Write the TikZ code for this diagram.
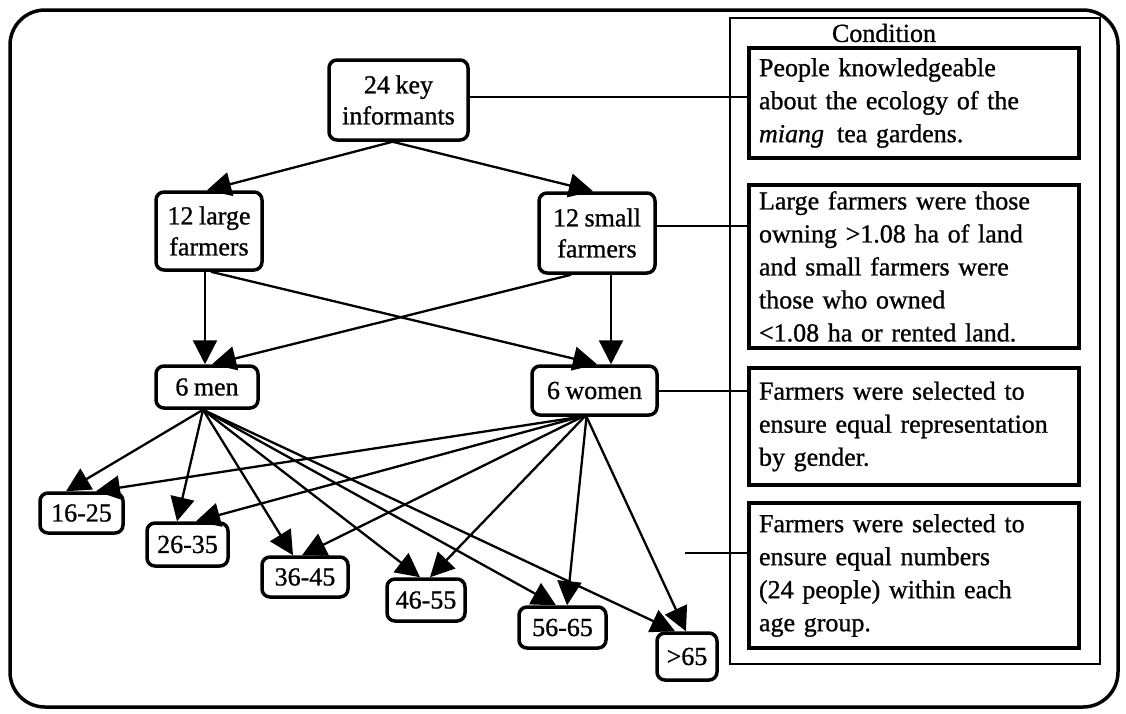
\documentclass[tikz,border=0pt]{standalone}
\usepackage{fontspec}
\setmainfont{Liberation Serif}[WordSpace=0.85,
  UprightFeatures={FakeBold=0.9}, ItalicFeatures={FakeBold=0.9}]
\usetikzlibrary{arrows.meta}
\begin{document}
\begin{tikzpicture}[x=1pt,y=-1pt,
  every node/.style={font=\fontsize{26}{31}\selectfont},
  nbox/.style={draw, line width=3.5pt, rounded corners=8pt, inner sep=0pt, align=center},
  cbox/.style={draw, line width=3.5pt, inner xsep=10pt, inner ysep=0pt,
    text width=310pt, align=left, minimum width=330pt, font=\fontsize{26}{33}\selectfont},
  arr/.style={line width=2.3pt, -{Triangle[length=24pt,width=24pt]}},
  link/.style={line width=2pt}]
\useasboundingbox (0,0) rectangle (1126,713);

% outer frame
\draw[line width=3.5pt, rounded corners=35pt] (10,10) rectangle (1118,707);

% condition column
\node[draw, line width=1.5pt, minimum width=370pt, minimum height=646pt, inner sep=0pt] (panel) at (915,341) {};
\node (cond) at (884,33) {Condition};
\node[cbox, minimum height=110pt] (c1) at (914,103)
  {People knowledgeable\\about the ecology of the\\\textit{miang}\ \,tea gardens.};
\node[cbox, minimum height=163pt] (c2) at (914,266.5)
  {Large farmers were those\\owning >1.08 ha of land\\and small farmers were\\those who owned\\<1.08 ha or rented land.};
\node[cbox, minimum height=117pt] (c3) at (914,426.5)
  {Farmers were selected to\\ensure equal representation\\by gender.};
\node[cbox, minimum height=145pt] (c4) at (914,575.5)
  {Farmers were selected to\\ensure equal numbers\\(24 people) within each\\age group.};

% sampling tree
\node[nbox, minimum width=139pt, minimum height=80pt] (key) at (398.5,100) {24 key\\informants};
\node[nbox, minimum width=106pt, minimum height=78pt] (large) at (209,231) {12 large\\farmers};
\node[nbox, minimum width=116pt, minimum height=80pt] (small) at (597,233) {12 small\\farmers};
\node[nbox, minimum width=102pt, minimum height=42pt] (men) at (207,387) {6 men};
\node[nbox, minimum width=125pt, minimum height=49pt] (women) at (594.5,390.5) {6 women};

\node[nbox, minimum width=83pt, minimum height=40pt] (a1) at (81.5,513) {16-25};
\node[nbox, minimum width=81pt, minimum height=43pt] (a2) at (187.5,544.5) {26-35};
\node[nbox, minimum width=86pt, minimum height=40pt] (a3) at (305,577) {36-45};
\node[nbox, minimum width=78pt, minimum height=42pt] (a4) at (426,600) {46-55};
\node[nbox, minimum width=87pt, minimum height=41pt] (a5) at (562.5,627.5) {56-65};
\node[nbox, minimum width=60pt, minimum height=47pt] (a6) at (687,656.5) {>65};

% arrows
\draw[arr] ([xshift=-6pt]key.south) -- ([xshift=-2pt]large.north);
\draw[arr] ([xshift=-6pt]key.south) -- ([xshift=-4pt]small.north);
\draw[arr] ([xshift=-4pt]large.south) -- ([xshift=-2pt]men.north);
\draw[arr] ([xshift=2pt]large.south) -- ([xshift=2.5pt]women.north);
\draw[arr] ([xshift=-26pt]small.south) -- ([xshift=5pt]men.north);
\draw[arr] ([xshift=14pt]small.south) -- ([xshift=16.5pt]women.north);

\draw[arr] ([xshift=-4pt]men.south) -- ([xshift=-15.5pt]a1.north);
\draw[arr] ([xshift=-4pt]men.south) -- ([xshift=-10.5pt]a2.north);
\draw[arr] ([xshift=-4pt]men.south) -- ([xshift=-12pt]a3.north);
\draw[arr] ([xshift=-4pt]men.south) -- ([xshift=-6pt]a4.north);
\draw[arr] ([xshift=-4pt]men.south) -- ([xshift=-6.5pt]a5.north);
\draw[arr] ([xshift=-4pt]men.south) -- ([xshift=-12pt]a6.north);

\draw[arr] ([xshift=-14pt]women.south) -- ([xshift=14.5pt]a1.north);
\draw[arr] ([xshift=-14pt]women.south) -- ([xshift=8.5pt]a2.north);
\draw[arr] ([xshift=-12pt]women.south) -- ([xshift=-3pt]a3.north);
\draw[arr] ([xshift=-10pt]women.south) -- ([xshift=4pt]a4.north);
\draw[arr] ([xshift=-8pt]women.south) -- ([xshift=4.5pt]a5.north);
\draw[arr] ([xshift=-8pt]women.south) -- ([xshift=-1pt]a6.north);

% links to the conditions
\draw[link] ([yshift=3pt]key.east) -- ([yshift=3pt]key.east -| c1.west);
\draw[link] ([yshift=7pt]small.east) -- ([yshift=7pt]small.east -| c2.west);
\draw[link] (women.east) -- (women.east -| c3.west);
\coordinate (tick) at (685,553);
\draw[link] (tick) -- (tick -| c4.west);
\end{tikzpicture}
\end{document}
